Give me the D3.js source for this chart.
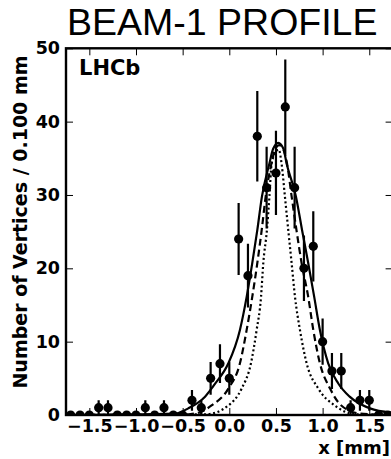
<!DOCTYPE html>
<html><head><meta charset="utf-8">
<script src="https://cdn.jsdelivr.net/npm/d3@7"></script>
<style>body{margin:0;background:#fff;}svg{display:block;}</style>
</head><body>
<svg id="c" width="391" height="459"></svg>
<script>
// ---- data ----
const binCentres = [-1.7,-1.6,-1.5,-1.4,-1.3,-1.2,-1.1,-1.0,-0.9,-0.8,-0.7,-0.6,-0.5,-0.4,-0.3,-0.2,-0.1,0.0,0.1,0.2,0.3,0.4,0.5,0.6,0.7,0.8,0.9,1.0,1.1,1.2,1.3,1.4,1.5,1.6,1.7];
const counts     = [0,0,0,1,1,0,0,0,1,0,1,0,0,2,1,5,7,5,24,19,38,31,33,42,31,20,23,10,6,6,1,2,2,0,0];

const solidX  = [-1.75,-0.58,-0.44,-0.26,-0.15,-0.01,0.114,0.186,0.246,0.30,0.35,0.43,0.47,0.525,0.58,0.614,0.714,0.78,0.846,0.91,0.971,1.06,1.168,1.29,1.507,1.75];
const solidY  = [0,0.2,0.9,2.5,4.3,7.05,11.6,16.1,20.7,25.2,29.8,34.3,36.3,37.1,36.3,34.3,29.8,25.2,20.7,16.1,11.6,7.05,4.3,2.5,0.9,0.3];
const dashedX = [-1.75,-0.5,-0.33,-0.19,-0.01,0.114,0.186,0.246,0.30,0.347,0.39,0.45,0.49,0.535,0.58,0.62,0.668,0.72,0.775,0.846,0.90,0.971,1.08,1.2,1.4,1.75];
const dashedY = [0,0.05,0.3,1.3,3.6,7.05,11.6,16.1,20.7,25.2,29.8,34.2,36.2,36.8,36.2,34.2,29.8,25.2,20.7,16.1,11.6,7.05,3.6,1.3,0.2,0];
const dottedX = [-1.75,-0.25,-0.01,0.132,0.232,0.293,0.34,0.364,0.403,0.43,0.454,0.50,0.53,0.56,0.596,0.632,0.668,0.704,0.757,0.829,0.954,1.13,1.35,1.75];
const dottedY = [0,0.1,1.3,3.6,7.05,11.6,16.1,20.7,25.2,29.8,34.3,35.9,36.2,34.3,29.8,25.2,20.7,16.1,11.6,7.05,3.6,1.3,0.1,0];

const xTicks = [-1.5,-1.0,-0.5,0.0,0.5,1.0,1.5];
const yTicks = [0,10,20,30,40,50];
const titleText = "BEAM-1 PROFILE";
const yLabel = "Number of Vertices / 0.100 mm";
const xLabel = "x [mm]";
const tagText = "LHCb";

// ---- drawing ----
const svg = d3.select("#c");
const L = 66, R = 392.6, T = 48.3, B = 415;
const x = d3.scaleLinear().domain([-1.75, 1.75]).range([L, R]);
const y = d3.scaleLinear().domain([0, 50]).range([B, T]);

svg.append("defs").append("clipPath").attr("id","clip")
  .append("rect").attr("x",L).attr("y",T).attr("width",R-L).attr("height",B-T);

const plot = svg.append("g").attr("clip-path","url(#clip)");

const line = d3.line().x(d=>x(d[0])).y(d=>y(d[1])).curve(d3.curveMonotoneX);
const curves = [
  {xs: solidX, ys: solidY, dash: null},
  {xs: dashedX, ys: dashedY, dash: "7,4"},
  {xs: dottedX, ys: dottedY, dash: "2,2.6"}
];
curves.forEach(c => {
  plot.append("path").datum(d3.zip(c.xs, c.ys))
    .attr("d", line).attr("fill","none").attr("stroke","#000")
    .attr("stroke-width", 2.2).attr("stroke-dasharray", c.dash);
});

const pts = d3.zip(binCentres, counts);
plot.selectAll("line.err").data(pts.filter(d=>d[1]>0)).join("line")
  .attr("class","err")
  .attr("x1", d=>x(d[0])).attr("x2", d=>x(d[0]))
  .attr("y1", d=>y(d[1]-Math.sqrt(d[1]))).attr("y2", d=>y(d[1]+Math.sqrt(d[1])))
  .attr("stroke","#000").attr("stroke-width",2.2);
plot.selectAll("circle.pt").data(pts).join("circle")
  .attr("class","pt")
  .attr("cx", d=>x(d[0])).attr("cy", d=>y(d[1])).attr("r",4.6).attr("fill","#000");

// axes: ticks inward
const tickLen = 7;
const axB = d3.axisBottom(x).tickValues(xTicks).tickSizeInner(-tickLen).tickSizeOuter(0)
  .tickFormat(d=>d3.format(".1f")(d).replace("-", "\u2212")).tickPadding(5);
const axT = d3.axisTop(x).tickValues(xTicks).tickSizeInner(-tickLen).tickSizeOuter(0).tickFormat("");
const axL = d3.axisLeft(y).tickValues(yTicks).tickSizeInner(-tickLen).tickSizeOuter(0).tickFormat(d3.format("d")).tickPadding(6);
const axR = d3.axisRight(y).tickValues(yTicks).tickSizeInner(-tickLen).tickSizeOuter(0).tickFormat("");

function styleAx(g){
  g.select(".domain").remove();
  g.selectAll(".tick line").attr("stroke","#000").attr("stroke-width",1);
  g.selectAll(".tick text").attr("fill","#000")
    .style("font-family","'DejaVu Sans'").style("font-weight","bold").style("font-size","17.5px");
}
svg.append("g").attr("transform",`translate(0,${B})`).call(axB).call(styleAx);
svg.append("g").attr("transform",`translate(0,${T})`).call(axT).call(styleAx);
svg.append("g").attr("transform",`translate(${L},0)`).call(axL).call(styleAx);
svg.append("g").attr("transform",`translate(${R},0)`).call(axR).call(styleAx);

// frame
svg.append("rect").attr("x",L).attr("y",T).attr("width",R-L).attr("height",B-T)
  .attr("fill","none").attr("stroke","#000").attr("stroke-width",2.4);

// texts
svg.append("text").attr("x",67).attr("y",35).text(titleText)
  .style("font-family","'Liberation Sans', Arial, sans-serif").style("font-size","37.5px").attr("fill","#000");
svg.append("text").attr("x",79).attr("y",75).text(tagText)
  .style("font-family","'DejaVu Sans'").style("font-weight","bold").style("font-size","21px");
svg.append("text").attr("x",390).attr("y",453.5).attr("text-anchor","end").text(xLabel)
  .style("font-family","'DejaVu Sans'").style("font-weight","bold").style("font-size","18px");
svg.append("text").attr("transform","translate(27,222) rotate(-90)").attr("text-anchor","middle").text(yLabel)
  .style("font-family","'DejaVu Sans'").style("font-weight","bold").style("font-size","19px");
</script>
</body></html>
